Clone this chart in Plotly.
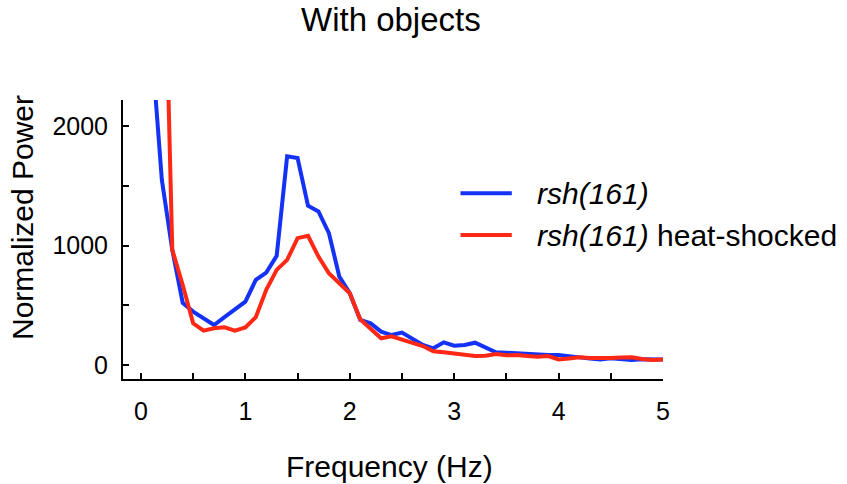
import plotly.graph_objects as go

freq_hz = [0.1, 0.2, 0.3, 0.4, 0.5, 0.6, 0.7, 0.8, 0.9, 1.0,
           1.1, 1.2, 1.3, 1.4, 1.5, 1.6, 1.7, 1.8, 1.9, 2.0,
           2.1, 2.2, 2.3, 2.4, 2.5, 2.6, 2.7, 2.8, 2.9, 3.0,
           3.1, 3.2, 3.3, 3.4, 3.5, 3.6, 3.7, 3.8, 3.9, 4.0,
           4.1, 4.2, 4.3, 4.4, 4.5, 4.6, 4.7, 4.8, 4.9, 5.0]

power_rsh161 = [2700, 1550, 964, 520, 447, 395, 335, 400, 461, 531,
                712, 774, 914, 1746, 1732, 1333, 1285, 1104, 740, 601,
                377, 349, 279, 251, 271, 215, 168, 140, 190, 162,
                168, 187, 145, 106, 103, 98, 90, 84, 84, 84,
                70, 64, 55, 47, 56, 52, 42, 48, 47, 47]

power_rsh161_hs = [8000, 4500, 964, 670, 349, 288, 307, 315, 288, 315,
                   400, 629, 796, 880, 1062, 1081, 908, 768, 685, 601,
                   383, 300, 224, 240, 210, 186, 159, 115, 106, 98,
                   92, 76, 78, 92, 82, 84, 75, 70, 75, 47,
                   55, 64, 58, 56, 58, 62, 64, 50, 42, 47]

series_names = ["<i>rsh(161)</i>", "<i>rsh(161)</i> heat-shocked"]
series_colors = ["#1432f5", "#ff2814"]

x_tick_vals = [0, 1, 2, 3, 4, 5]
x_tick_text = ["0", "1", "2", "3", "4", "5"]
y_tick_vals = [0, 1000, 2000]
y_tick_text = ["0", "1000", "2000"]

FONT = "Liberation Sans, Arial, sans-serif"

fig = go.Figure()
for ys, name, col in zip([power_rsh161, power_rsh161_hs], series_names, series_colors):
    fig.add_trace(go.Scatter(x=freq_hz, y=ys, mode="lines", name=name,
                             line=dict(color=col, width=4), showlegend=False))

fig.update_layout(
    width=847, height=484,
    margin=dict(l=123, r=184, t=100, b=105),
    paper_bgcolor="white", plot_bgcolor="white",
    font=dict(family=FONT, color="black"),
    xaxis=dict(range=[-0.172, 5.0], showgrid=False, zeroline=False,
               showline=True, linecolor="black", linewidth=2,
               tickmode="array", tickvals=x_tick_vals, ticktext=x_tick_text,
               ticks="inside", ticklen=6, tickwidth=2, tickcolor="black",
               tickfont=dict(size=25, family=FONT), ticklabelstandoff=9,
               minor=dict(dtick=0.5, tick0=0, ticks="inside", ticklen=6,
                          tickwidth=2, tickcolor="black", showgrid=False)),
    yaxis=dict(range=[-117, 2218], showgrid=False, zeroline=False,
               showline=True, linecolor="black", linewidth=2,
               tickmode="array", tickvals=y_tick_vals, ticktext=y_tick_text,
               ticks="inside", ticklen=6, tickwidth=2, tickcolor="black",
               tickfont=dict(size=25, family=FONT), ticklabelstandoff=8,
               minor=dict(dtick=500, tick0=0, ticks="inside", ticklen=6,
                          tickwidth=2, tickcolor="black", showgrid=False)),
)

annotations = [
    dict(text="With objects", x=0.497, y=(379 - 19) / 279, xref="paper", yref="paper",
         xanchor="center", yanchor="middle", showarrow=False, borderpad=0,
         font=dict(size=33, family=FONT)),
    dict(text="Frequency (Hz)", x=0.494, y=-0.312, xref="paper", yref="paper",
         xanchor="center", yanchor="middle", showarrow=False,
         font=dict(size=30, family=FONT)),
    dict(text="Normalized Power", x=-0.187, y=0.577, xref="paper", yref="paper",
         xanchor="center", yanchor="middle", showarrow=False, textangle=-90,
         font=dict(size=30, family=FONT)),
]
legend_y = [0.666, 0.516]
for name, col, ly in zip(series_names, series_colors, legend_y):
    fig.add_shape(type="line", xref="paper", yref="paper", x0=0.625, x1=0.720,
                  y0=ly, y1=ly, line=dict(color=col, width=4))
    annotations.append(dict(text=name, x=0.763, y=ly, xref="paper", yref="paper",
                            xanchor="left", yanchor="middle", showarrow=False,
                            font=dict(size=30, family=FONT)))
fig.update_layout(annotations=annotations)

fig.write_html("out.html")
